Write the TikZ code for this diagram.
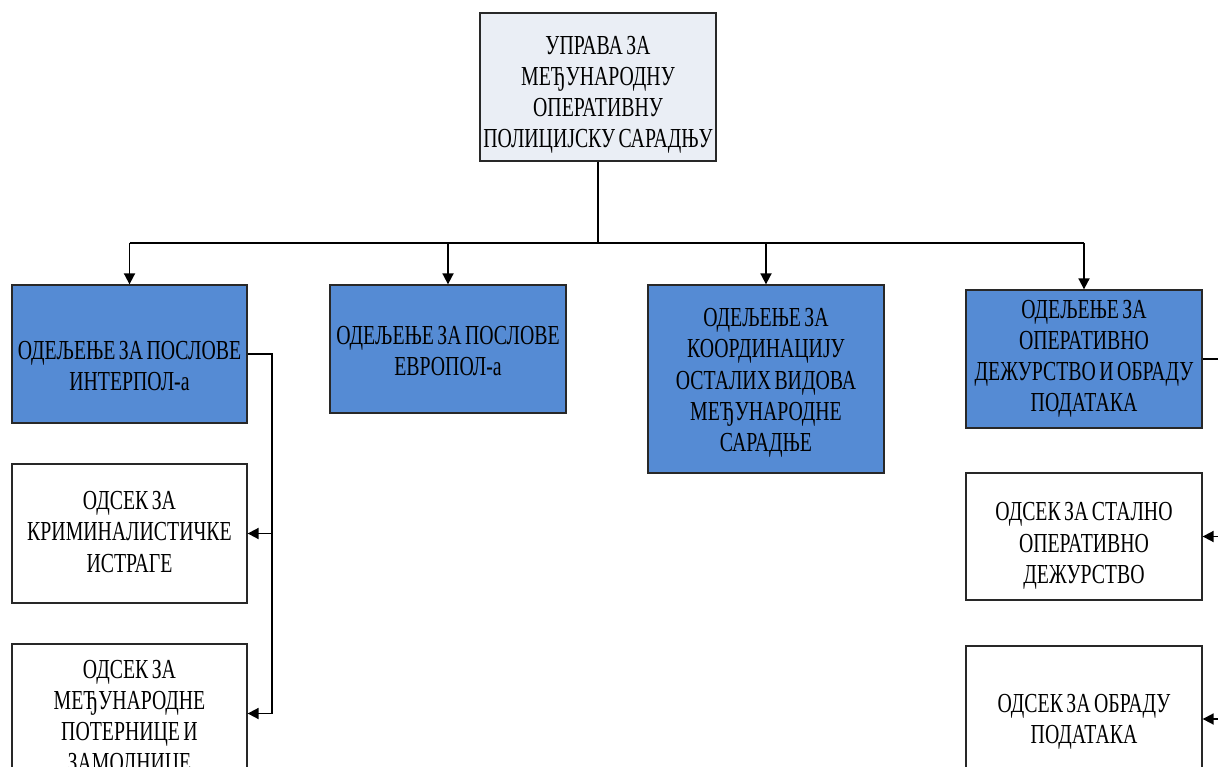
\documentclass[tikz,border=0pt]{standalone}
\usepackage{fontspec}
\setmainfont{Liberation Serif}[FakeStretch=0.72,WordSpace=0.7]
\usetikzlibrary{arrows.meta}
\definecolor{deptblue}{RGB}{85,139,212}
\definecolor{topfill}{RGB}{234,238,245}
\definecolor{boxline}{RGB}{40,40,40}
\tikzset{
  box/.style={draw=boxline, line width=1.3pt, rectangle, inner sep=0pt},
  txt/.style={align=center, inner sep=0pt, font=\fontsize{27.5}{31.2}\selectfont},
  topbox/.style={box, fill=topfill},
  dept/.style={box, fill=deptblue},
  sect/.style={box, fill=white},
  conn/.style={draw=black, line width=1.8pt},
  arr/.style={conn, -{Triangle[length=11pt,width=11pt]}},
}
\begin{document}
\begin{tikzpicture}[x=1pt,y=-1pt]
\useasboundingbox (0,0) rectangle (1218,767);
\fill[white] (0,0) rectangle (1218,767);
\begin{scope}
\clip (0,0) rectangle (1218,767);
\node[topbox, minimum width=236pt, minimum height=148pt] (top) at (598,87) {};
\node[dept, minimum width=235pt, minimum height=138pt] (d1) at (129.5,354) {};
\node[dept, minimum width=236pt, minimum height=128pt] (d2) at (448,349) {};
\node[dept, minimum width=236pt, minimum height=188pt] (d3) at (766,379) {};
\node[dept, minimum width=236pt, minimum height=138pt] (d4) at (1084,359) {};
\node[sect, minimum width=235pt, minimum height=139pt] (s1) at (129.5,533.5) {};
\node[sect, minimum width=235pt, minimum height=139pt] (s2) at (129.5,713.5) {};
\node[sect, minimum width=236pt, minimum height=127pt] (s3) at (1084,536.5) {};
\node[sect, minimum width=236pt, minimum height=146pt] (s4) at (1084,719) {};
\node[txt] (topt) at (598,95) {УПРАВА ЗА\\МЕЂУНАРОДНУ\\ОПЕРАТИВНУ\\ПОЛИЦИЈСКУ САРАДЊУ};
\node[txt] (d1t) at (129.5,366) {ОДЕЉЕЊЕ ЗА ПОСЛОВЕ\\ИНТЕРПОЛ-а};
\node[txt] (d2t) at (448,351) {ОДЕЉЕЊЕ ЗА ПОСЛОВЕ\\ЕВРОПОЛ-а};
\node[txt] (d3t) at (766,383) {ОДЕЉЕЊЕ ЗА\\КООРДИНАЦИЈУ\\ОСТАЛИХ ВИДОВА\\МЕЂУНАРОДНЕ\\САРАДЊЕ};
\node[txt] (d4t) at (1084,359) {ОДЕЉЕЊЕ ЗА\\ОПЕРАТИВНО\\ДЕЖУРСТВО И ОБРАДУ\\ПОДАТАКА};
\node[txt] (s1t) at (129.5,532) {ОДСЕК ЗА\\КРИМИНАЛИСТИЧКЕ\\ИСТРАГЕ};
\node[txt] (s2t) at (129.5,719) {ОДСЕК ЗА\\МЕЂУНАРОДНЕ\\ПОТЕРНИЦЕ И\\ЗАМОЛНИЦЕ};
\node[txt] (s3t) at (1084,546) {ОДСЕК ЗА СТАЛНО\\ОПЕРАТИВНО\\ДЕЖУРСТВО};
\node[txt] (s4t) at (1084,722) {ОДСЕК ЗА ОБРАДУ\\ПОДАТАКА};
\coordinate (bus) at (598,243);
\coordinate (lx) at (272,0);
\coordinate (rx) at (1218,0);
\draw[conn] (top.south) -- (bus);
\draw[conn] (d1.north |- bus) -- (d4.north |- bus);
\draw[arr] (d1.north |- bus) -- (d1.north);
\draw[arr] (d2.north |- bus) -- (d2.north);
\draw[arr] (d3.north |- bus) -- (d3.north);
\draw[arr] (d4.north |- bus) -- (d4.north);
\draw[conn] (d1.east) -- (lx |- d1.east) -- (lx |- s2.east);
\draw[arr] (lx |- s1.east) -- (s1.east);
\draw[arr] (lx |- s2.east) -- (s2.east);
\draw[conn] (d4.east) -- (rx |- d4.east);
\draw[arr] (rx |- s3.east) -- (s3.east);
\draw[arr] (rx |- s4.east) -- (s4.east);
\end{scope}
\end{tikzpicture}
\end{document}
